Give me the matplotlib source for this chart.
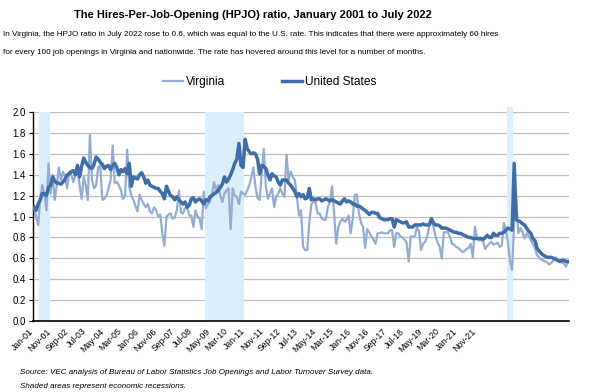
import numpy as np
import pandas as pd
import matplotlib
matplotlib.use("Agg")
import matplotlib.pyplot as plt
from matplotlib.transforms import ScaledTranslation

# Monthly HPJO ratio, Jan 2001 - Jul 2022
us = [
    1.09, 1.06, 1.12, 1.16, 1.22, 1.22, 1.20, 1.28, 1.30, 1.38, 1.34, 1.32,  # 2001
    1.32, 1.31, 1.33, 1.36, 1.40, 1.41, 1.43, 1.44, 1.40, 1.49, 1.38, 1.48,  # 2002
    1.56, 1.52, 1.49, 1.47, 1.46, 1.50, 1.57, 1.55, 1.52, 1.50, 1.46, 1.48,  # 2003
    1.49, 1.45, 1.49, 1.51, 1.47, 1.40, 1.45, 1.43, 1.46, 1.41, 1.51, 1.29,  # 2004
    1.38, 1.37, 1.36, 1.40, 1.42, 1.38, 1.32, 1.35, 1.30, 1.29, 1.28, 1.27,  # 2005
    1.27, 1.24, 1.22, 1.17, 1.29, 1.24, 1.20, 1.19, 1.16, 1.19, 1.16, 1.14,  # 2006
    1.12, 1.14, 1.09, 1.11, 1.17, 1.18, 1.14, 1.16, 1.17, 1.15, 1.12, 1.16,  # 2007
    1.15, 1.19, 1.20, 1.22, 1.23, 1.25, 1.28, 1.31, 1.38, 1.33, 1.36, 1.40,  # 2008
    1.45, 1.51, 1.55, 1.70, 1.49, 1.47, 1.74, 1.65, 1.62, 1.60, 1.61, 1.60,  # 2009
    1.55, 1.41, 1.49, 1.48, 1.46, 1.40, 1.35, 1.41, 1.39, 1.38, 1.33, 1.30,  # 2010
    1.35, 1.35, 1.35, 1.32, 1.30, 1.27, 1.24, 1.19, 1.22, 1.19, 1.21, 1.17,  # 2011
    1.18, 1.27, 1.16, 1.17, 1.16, 1.17, 1.17, 1.15, 1.16, 1.17, 1.16, 1.15,  # 2012
    1.16, 1.15, 1.14, 1.13, 1.12, 1.15, 1.17, 1.14, 1.15, 1.14, 1.12, 1.12,  # 2013
    1.10, 1.10, 1.09, 1.07, 1.06, 1.04, 1.02, 1.04, 1.04, 1.03, 1.03, 0.99,  # 2014
    0.98, 0.97, 0.97, 0.97, 0.98, 0.98, 0.90, 0.97, 0.96, 0.95, 0.94, 0.94,  # 2015
    0.95, 0.90, 0.90, 0.90, 0.92, 0.92, 0.92, 0.92, 0.93, 0.92, 0.92, 0.92,  # 2016
    0.98, 0.94, 0.92, 0.92, 0.91, 0.89, 0.89, 0.89, 0.88, 0.87, 0.86, 0.85,  # 2017
    0.85, 0.84, 0.84, 0.83, 0.82, 0.81, 0.80, 0.80, 0.79, 0.79, 0.79, 0.79,  # 2018
    0.79, 0.78, 0.80, 0.82, 0.80, 0.80, 0.84, 0.82, 0.82, 0.84, 0.84, 0.85,  # 2019
    0.87, 0.89, 0.88, 0.87, 1.51, 0.97, 0.96, 0.95, 0.93, 0.92, 0.89, 0.86,  # 2020
    0.84, 0.79, 0.77, 0.70, 0.67, 0.65, 0.63, 0.62, 0.61, 0.61, 0.61, 0.60,  # 2021
    0.59, 0.58, 0.57, 0.58, 0.58, 0.57, 0.57,                                # 2022
]

virginia = [
    1.09, 1.00, 0.92, 1.18, 1.30, 1.22, 1.06, 1.51, 1.22, 1.40, 1.16, 1.30,  # 2001
    1.47, 1.35, 1.43, 1.38, 1.27, 1.43, 1.40, 1.33, 1.40, 1.47, 1.30, 1.17,  # 2002
    1.38, 1.30, 1.16, 1.78, 1.35, 1.27, 1.30, 1.47, 1.49, 1.16, 1.17, 1.20,  # 2003
    1.27, 1.35, 1.68, 1.32, 1.33, 1.30, 1.25, 1.17, 1.20, 1.64, 1.29, 1.20,  # 2004
    1.16, 1.10, 1.05, 1.21, 1.16, 1.12, 1.09, 1.12, 1.05, 1.03, 1.09, 1.06,  # 2005
    1.00, 1.02, 0.84, 0.72, 1.00, 1.02, 1.03, 0.98, 0.99, 1.06, 1.25, 1.04,  # 2006
    1.03, 1.08, 1.09, 1.01, 1.01, 0.90, 1.06, 1.00, 0.98, 0.88, 1.24, 1.08,  # 2007
    1.12, 1.14, 1.22, 1.33, 1.24, 1.30, 1.20, 1.14, 1.22, 1.25, 1.27, 0.88,  # 2008
    1.27, 1.20, 1.19, 1.12, 1.24, 1.22, 1.21, 1.25, 1.30, 1.38, 1.47, 1.28,  # 2009
    1.18, 1.16, 1.40, 1.65, 1.29, 1.17, 1.22, 1.27, 1.09, 1.19, 1.22, 1.27,  # 2010
    1.22, 1.19, 1.59, 1.35, 1.43, 1.38, 1.35, 1.20, 1.01, 1.06, 0.71, 0.68,  # 2011
    0.68, 0.94, 1.12, 1.14, 1.14, 1.03, 1.03, 0.98, 0.97, 0.97, 1.09, 1.15,  # 2012
    1.29, 1.03, 0.74, 0.90, 0.95, 0.98, 0.95, 0.97, 1.01, 0.84, 0.98, 1.21,  # 2013
    1.21, 1.03, 0.94, 0.90, 0.70, 0.88, 0.85, 0.81, 0.78, 0.74, 0.84, 0.84,  # 2014
    0.85, 0.84, 0.84, 0.84, 0.87, 0.87, 0.71, 0.84, 0.84, 0.81, 0.80, 0.78,  # 2015
    0.75, 0.57, 0.81, 0.81, 0.81, 0.90, 0.86, 0.68, 0.74, 0.76, 0.81, 0.92,  # 2016
    0.98, 0.90, 0.81, 0.75, 0.71, 0.60, 0.85, 0.85, 0.85, 0.80, 0.74, 0.73,  # 2017
    0.71, 0.70, 0.68, 0.66, 0.67, 0.69, 0.70, 0.74, 0.61, 0.90, 0.80, 0.77,  # 2018
    0.78, 0.76, 0.69, 0.72, 0.74, 0.76, 0.73, 0.74, 0.75, 0.71, 0.72, 0.94,  # 2019
    0.87, 0.75, 0.57, 0.49, 0.95, 1.16, 0.84, 0.89, 0.85, 0.79, 0.84, 0.81,  # 2020
    0.78, 0.74, 0.70, 0.63, 0.61, 0.59, 0.58, 0.57, 0.56, 0.54, 0.56, 0.58,  # 2021
    0.61, 0.59, 0.58, 0.56, 0.55, 0.52, 0.57,                                # 2022
]

months = pd.date_range("2001-01-01", periods=len(us), freq="MS")
month_labels = [d.strftime("%b-%y") for d in months]

# recession bands (first and last shaded month)
rec_start = ["2001-04", "2007-12", "2020-02"]
rec_end = ["2001-08", "2009-06", "2020-04"]

us_color = "#3F6DA6"
va_color = "#92ACD4"
shade_color = "#DAEEFB"
plt.rcParams["font.family"] = ["Liberation Sans", "DejaVu Sans"]

fig = plt.figure(figsize=(6.03, 3.92), dpi=100)
ax = fig.add_axes([0.0547, 0.181, 0.889, 0.533])

x = np.arange(len(us))
idx = {m.strftime("%Y-%m"): i for i, m in enumerate(months)}
for s, e in zip(rec_start, rec_end):
    top = 1.025 if s.startswith("2020") else 1.0
    ax.axvspan(idx[s] - 0.5, idx[e] + 0.5, ymin=0, ymax=top,
               color=shade_color, lw=0, zorder=1, clip_on=False)

ax.plot(x, virginia, color=va_color, lw=1.6, zorder=3, label="Virginia")
ax.plot(x, us, color=us_color, lw=2.5, zorder=4, label="United States")

ax.set_xlim(-0.5, len(us) - 0.5)
ax.set_ylim(0, 2.0)
ax.set_yticks(np.arange(0, 2.01, 0.2))
ax.set_yticklabels([f"{v:.1f}" for v in np.arange(0, 2.01, 0.2)], fontsize=7)
ax.yaxis.grid(True, color="#BFBFBF", lw=0.9, zorder=0)
ax.set_axisbelow(True)
ax.tick_params(axis="y", length=3, width=0.8, pad=2)

# category labels every 10 months (squeezed as in the original)
step = 10
tick_idx = list(range(0, len(us), step))
ax.set_xticks([k * 0.855 for k in tick_idx])
ax.set_xticklabels([month_labels[k] for k in tick_idx], rotation=45,
                   ha="right", va="top", rotation_mode="anchor", fontsize=6.3)
ax.tick_params(axis="x", length=0, pad=4)
shift = ScaledTranslation(-4 / 72, 0, fig.dpi_scale_trans)
for lab in ax.get_xticklabels():
    lab.set_transform(lab.get_transform() + shift)

for side in ["top", "right"]:
    ax.spines[side].set_visible(False)
ax.spines["left"].set_linewidth(1.0)
ax.spines["bottom"].set_linewidth(1.2)

fig.text(0.42, 0.962, "The Hires-Per-Job-Opening (HPJO) ratio, January 2001 to July 2022",
         ha="center", va="center", fontsize=8.0, fontweight="bold")
fig.text(0.005, 0.912,
         "In Virginia, the HPJO ratio in July 2022 rose to 0.6, which was equal to the U.S. rate. "
         "This indicates that there were approximately 60 hires",
         ha="left", va="center", fontsize=5.88)
fig.text(0.005, 0.866,
         "for every 100 job openings in Virginia and nationwide. The rate has hovered around "
         "this level for a number of months.",
         ha="left", va="center", fontsize=5.88)

fig.legend(loc="center", bbox_to_anchor=(0.447, 0.79), ncol=2, frameon=False,
           prop={"size": 8.6}, handlelength=1.7, handletextpad=0.2, columnspacing=4.8)

fig.text(0.033, 0.05,
         "Source: VEC analysis of Bureau of Labor Statistics Job Openings and Labor Turnover Survey data.",
         ha="left", va="center", fontsize=5.8, style="italic")
fig.text(0.033, 0.015, "Shaded areas represent economic recessions.",
         ha="left", va="center", fontsize=5.8, style="italic")

fig.savefig("out.png", dpi=100)
